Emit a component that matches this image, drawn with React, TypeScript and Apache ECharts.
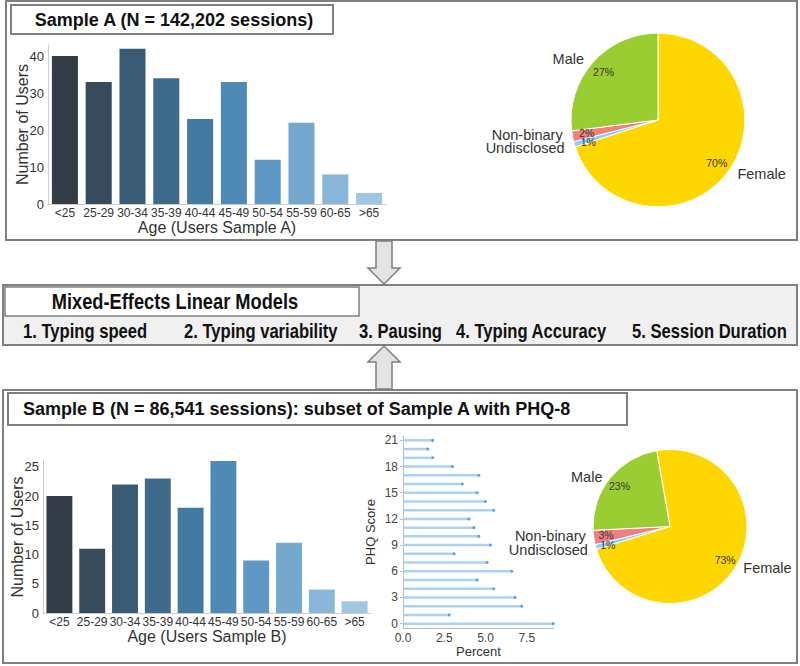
import React, { useEffect, useRef } from "react";
import * as echarts from "echarts";

// ---------- data ----------
const AGE_GROUPS = ["<25", "25-29", "30-34", "35-39", "40-44", "45-49", "50-54", "55-59", "60-65", ">65"];
const USERS_A = [40, 33, 42, 34, 23, 33, 12, 22, 8, 3];
const USERS_B = [20, 11, 22, 23, 18, 26, 9, 12, 4, 2];

const PHQ_SCORES = ["0", "1", "2", "3", "4", "5", "6", "7", "8", "9", "10", "11", "12", "13", "14", "15", "16", "17", "18", "19", "20", "21"];
const PHQ_PERCENT = [9.1, 2.8, 7.2, 6.8, 5.5, 4.5, 6.6, 5.1, 3.1, 5.3, 4.6, 4.3, 4.0, 5.5, 5.0, 4.5, 3.6, 4.6, 3.0, 1.8, 1.5, 1.8];

const GENDERS = ["Female", "Undisclosed", "Non-binary", "Male"];
const GENDER_A = [70, 1, 2, 27];
const GENDER_B = [73, 1, 3, 23];

const TITLE_A = "Sample A (N = 142,202 sessions)";
const TITLE_B = "Sample B (N = 86,541 sessions): subset of Sample A with PHQ-8";
const MODELS_TITLE = "Mixed-Effects Linear Models";
const MODELS = ["1. Typing speed", "2. Typing variability", "3. Pausing", "4. Typing Accuracy", "5. Session Duration"];

// ---------- styles ----------
const BAR_COLORS = ["#323d47", "#374b5d", "#3b5b75", "#3e6a8b", "#427aa2", "#4f8ab7", "#5f98c4", "#74a8cf", "#89b6d9", "#9fc6e3"];
const GENDER_COLORS = ["#ffd700", "#87cefa", "#f08080", "#9acd32"];
// small vertical nudges that keep the stacked labels of the two thin slices apart
const NAME_NUDGE = [0, 2, -2, 0];
const PCT_NUDGE = [0, 1.5, -1, 0];
const FONT = "'Liberation Sans', Arial, Helvetica, sans-serif";
const TXT = "#333333";
const AXIS = "#cccccc";
const BOX = "#7f7f7f";
const MODEL_X = [23, 184, 359, 456, 632];
const NARROW_SCALE = 0.83;

function barAxes(gridIndex: number, max: number, interval: number, name: string) {
  return {
    x: {
      type: "category",
      gridIndex,
      data: AGE_GROUPS,
      axisLine: { show: true, lineStyle: { color: AXIS, width: 1 } },
      axisTick: { show: false },
      axisLabel: { color: TXT, fontSize: 12, fontFamily: FONT, margin: 3, interval: 0 },
      name: "Age (" + name + ")",
      nameLocation: "middle",
      nameGap: 15,
      nameTextStyle: { color: TXT, fontSize: 16, fontFamily: FONT },
    },
    y: {
      type: "value",
      gridIndex,
      min: 0,
      max,
      interval,
      splitLine: { show: false },
      axisLine: { show: true, lineStyle: { color: AXIS, width: 1 } },
      axisTick: { show: false },
      axisLabel: {
        color: TXT,
        fontSize: 13,
        fontFamily: FONT,
        margin: 4,
        formatter: (v: number) => (v % interval === 0 ? String(v) : ""),
      },
      name: "Number of Users",
      nameLocation: "middle",
      nameGap: 18,
      nameMoveOverlap: false,
      nameTextStyle: { color: TXT, fontSize: 16, fontFamily: FONT },
    },
  };
}

function pieSeries(values: number[], center: [number, number], r: number, startAngle: number, lineLen: number) {
  const data = GENDERS.map((g, i) => ({
    name: g,
    value: values[i],
    itemStyle: { color: GENDER_COLORS[i] },
    label: { offset: [0, NAME_NUDGE[i]] },
  }));
  return [
    {
      type: "pie",
      center,
      radius: [0, r],
      startAngle,
      clockwise: true,
      avoidLabelOverlap: false,
      silent: true,
      data,
      itemStyle: { borderColor: "#ffffff", borderWidth: 1 },
      label: {
        show: true,
        position: "outside",
        formatter: "{b}",
        color: TXT,
        fontSize: 14.5,
        fontFamily: FONT,
        lineHeight: 11,
      },
      labelLine: { show: false, length: lineLen, length2: 0 },
      labelLayout: { hideOverlap: false },
      emphasis: { disabled: true },
    },
    {
      type: "pie",
      center,
      radius: [r * 0.6, r],
      startAngle,
      clockwise: true,
      avoidLabelOverlap: false,
      silent: true,
      data: GENDERS.map((g, i) => ({ name: g, value: values[i], label: { offset: [0, PCT_NUDGE[i]] } })),
      itemStyle: { color: "rgba(0,0,0,0)", borderWidth: 0 },
      label: {
        show: true,
        position: "inside",
        formatter: (p: any) => Math.round(p.percent) + "%",
        color: TXT,
        fontSize: 10.5,
        lineHeight: 9,
        fontFamily: FONT,
      },
      labelLine: { show: false },
      labelLayout: { hideOverlap: false },
      emphasis: { disabled: true },
    },
  ];
}

export default function App() {
  const ref = useRef<HTMLDivElement>(null);

  useEffect(() => {
    if (!ref.current) return;
    const chart = echarts.init(ref.current, null, { renderer: "svg" });

    const a = barAxes(0, 43, 10, "Users Sample A");
    const b = barAxes(1, 26, 5, "Users Sample B");

    const titleStyle = { fontSize: 18, fontWeight: "bold", fontFamily: FONT, fill: "#111111" };
    const modelStyle = { fontSize: 20, fontWeight: "bold", fontFamily: FONT, fill: "#111111" };

    const graphic: any[] = [
      { type: "rect", z: -10, shape: { x: 6, y: 1, width: 791, height: 239 }, style: { fill: "none", stroke: BOX, lineWidth: 2 } },
      { type: "rect", z: -9, shape: { x: 11, y: 5, width: 322, height: 29 }, style: { fill: "#ffffff", stroke: BOX, lineWidth: 2 } },
      { type: "text", z: 10, x: 174, y: 20, style: { ...titleStyle, text: TITLE_A, align: "center", verticalAlign: "middle", textAlign: "center", textVerticalAlign: "middle" } },
      { type: "polygon", z: -9, shape: { points: [[376, 241], [392, 241], [392, 268], [400, 268], [384, 284], [368, 268], [376, 268]] }, style: { fill: "#e3e3e3", stroke: BOX, lineWidth: 1.5 } },
      { type: "rect", z: -10, shape: { x: 3, y: 285, width: 794, height: 60 }, style: { fill: "#f0f0f0", stroke: BOX, lineWidth: 2 } },
      { type: "rect", z: -9, shape: { x: 5, y: 287, width: 354, height: 29 }, style: { fill: "#ffffff", stroke: BOX, lineWidth: 1.5 } },
      { type: "text", z: 10, x: 175, y: 301, scaleX: NARROW_SCALE, style: { ...modelStyle, fontSize: 22, text: MODELS_TITLE, align: "center", verticalAlign: "middle", textAlign: "center", textVerticalAlign: "middle" } },
      ...MODELS.map((m, i) => ({ type: "text", z: 10, x: MODEL_X[i], y: 331, scaleX: NARROW_SCALE, style: { ...modelStyle, text: m, align: "left", verticalAlign: "middle", textAlign: "left", textVerticalAlign: "middle" } })),
      { type: "polygon", z: -9, shape: { points: [[384, 346], [400, 362], [392, 362], [392, 389], [376, 389], [376, 362], [368, 362]] }, style: { fill: "#e3e3e3", stroke: BOX, lineWidth: 1.5 } },
      { type: "rect", z: -10, shape: { x: 3, y: 390, width: 794, height: 273 }, style: { fill: "none", stroke: BOX, lineWidth: 2 } },
      { type: "rect", z: -9, shape: { x: 8, y: 393, width: 619, height: 32 }, style: { fill: "#ffffff", stroke: BOX, lineWidth: 2 } },
      { type: "text", z: 10, x: 23, y: 409, style: { ...titleStyle, text: TITLE_B, align: "left", verticalAlign: "middle", textAlign: "left", textVerticalAlign: "middle" } },
    ];

    const option: any = {
      animation: false,
      backgroundColor: "#ffffff",
      textStyle: { fontFamily: FONT },
      graphic,
      grid: [
        { left: 48, top: 45, width: 338, height: 159 },
        { left: 43, top: 461, width: 328, height: 152 },
        { left: 403, top: 436, width: 151, height: 192 },
      ],
      xAxis: [
        a.x,
        b.x,
        {
          type: "value",
          gridIndex: 2,
          min: 0,
          max: 9.15,
          interval: 2.5,
          splitLine: { show: false },
          axisLine: { show: true, lineStyle: { color: "#bbbbbb", width: 1 } },
          axisTick: { show: false },
          axisLabel: {
            color: "#444444",
            fontSize: 12,
            fontFamily: FONT,
            margin: 4,
            formatter: (v: number) => (Math.abs(v / 2.5 - Math.round(v / 2.5)) < 1e-6 ? v.toFixed(1) : ""),
          },
          name: "Percent",
          nameLocation: "middle",
          nameGap: 15,
          nameTextStyle: { color: TXT, fontSize: 13, fontFamily: FONT },
        },
      ],
      yAxis: [
        a.y,
        b.y,
        {
          type: "category",
          gridIndex: 2,
          data: PHQ_SCORES,
          boundaryGap: true,
          axisLine: { show: true, lineStyle: { color: "#bbbbbb", width: 1 } },
          axisTick: { show: true, interval: 2, alignWithLabel: true, length: 3, lineStyle: { color: "#bbbbbb" } },
          axisLabel: { color: "#444444", fontSize: 12, fontFamily: FONT, margin: 5, interval: 2 },
          name: "PHQ Score",
          nameLocation: "middle",
          nameGap: 26,
          nameMoveOverlap: false,
          nameTextStyle: { color: TXT, fontSize: 13, fontFamily: FONT },
        },
      ],
      series: [
        {
          type: "bar",
          xAxisIndex: 0,
          yAxisIndex: 0,
          barCategoryGap: "23%",
          silent: true,
          data: USERS_A.map((v, i) => ({ value: v, itemStyle: { color: BAR_COLORS[i] } })),
        },
        {
          type: "bar",
          xAxisIndex: 1,
          yAxisIndex: 1,
          barCategoryGap: "21%",
          silent: true,
          data: USERS_B.map((v, i) => ({ value: v, itemStyle: { color: BAR_COLORS[i] } })),
        },
        {
          type: "bar",
          xAxisIndex: 2,
          yAxisIndex: 2,
          barWidth: 2.5,
          silent: true,
          itemStyle: { color: "#a9d2f3" },
          data: PHQ_PERCENT,
        },
        {
          type: "scatter",
          xAxisIndex: 2,
          yAxisIndex: 2,
          symbolSize: 3,
          silent: true,
          itemStyle: { color: "#3f8fd8" },
          data: PHQ_PERCENT.map((v, i) => [v, i]),
        },
        ...pieSeries(GENDER_A, [658, 120], 87, 90, 5),
        ...pieSeries(GENDER_B, [670, 526.5], 77, 100, 3),
      ],
    };

    chart.setOption(option);
    return () => chart.dispose();
  }, []);

  return <div ref={ref} style={{ position: "absolute", left: 0, top: 0, width: 800, height: 666 }} />;
}
